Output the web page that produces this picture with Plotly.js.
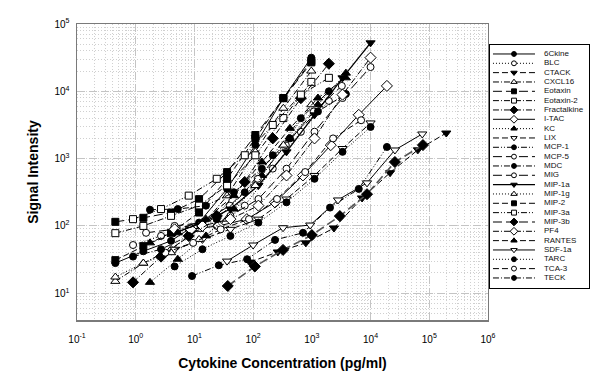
<!DOCTYPE html>
<html><head><meta charset="utf-8">
<script src="https://cdn.plot.ly/plotly-3.0.1.min.js"></script>
<style>html,body{margin:0;padding:0;background:#fff}#chart{width:600px;height:379px}</style>
</head><body><div id="chart"></div>
<script>
// ---- data (estimated) ----
const names = ['6Ckine','BLC','CTACK','CXCL16','Eotaxin','Eotaxin-2','Fractalkine','I-TAC','KC','LIX','MCP-1','MCP-5','MDC','MIG','MIP-1a','MIP-1g','MIP-2','MIP-3a','MIP-3b','PF4','RANTES','SDF-1a','TARC','TCA-3','TECK'];
const legendRows = [0,1,2,3,4,5,6,7,8,9,10,11,12,13,14,15,16,17,18,19,20,21,22,23,24];
const xTickVals = [0.1, 1, 10, 100, 1000, 10000, 100000, 1000000];
const xTickText = ['10<sup>-1</sup>','10<sup>0</sup>','10<sup>1</sup>','10<sup>2</sup>','10<sup>3</sup>','10<sup>4</sup>','10<sup>5</sup>','10<sup>6</sup>'];
const yTickVals = [10, 100, 1000, 10000, 100000];
const yTickText = ['10<sup>1</sup>','10<sup>2</sup>','10<sup>3</sup>','10<sup>4</sup>','10<sup>5</sup>'];

// concentration series (pg/ml)
const concA = [0.45, 1.35, 4.0, 12, 36, 109, 327, 980];
const concB = [0.9, 2.7, 8, 24, 72, 216, 650, 1950];
const concC = [1.75, 5.2, 15.7, 47, 141, 423, 1270, 3800];
const concD = [1.5, 4.4, 13.3, 40, 120, 360, 1080, 3240];
const concE = [3.2, 9.5, 28, 85, 255, 770, 2300, 6900];
const concF = [4.6, 13.7, 41, 123, 370, 1110, 3330, 10000];
const concG = [8.7, 26, 78, 235, 705, 2100, 6300, 19000];
const concMCP1 = [9.1, 26, 79, 236, 707, 2040, 6300, 19000];
const concSDF1a = [36, 100, 323, 937, 2790, 8700, 26000, 76000];
const concMIP3b = [37, 107, 323, 1000, 3000, 8700, 26000, 78000];
const concCTACK = [88, 263, 790, 2380, 7170, 21500, 64000, 195000];

// signal intensities
const sig6Ckine = [28, 42, 60, 112, 355, 1600, 7900, 31600];
const sigBLC = [52, 71, 89, 100, 200, 710, 2500, 7200];
const sigCTACK = [29, 41, 56, 93, 260, 617, 1350, 2400];
const sigCXCL16 = [15, 28, 45, 89, 280, 1260, 5600, 20000];
const sigEotaxin = [115, 132, 158, 250, 630, 2240, 7900, 26900];
const sigEotaxin2 = [78, 100, 141, 200, 400, 1120, 4000, 13800];
const sigFractalkine = [14.5, 35, 71, 141, 450, 2000, 7900, 25700];
const sigITAC = [89, 100, 126, 224, 562, 1585, 4467, 12023];
const sigKC = [14.5, 32, 71, 178, 562, 1995, 6310, 18621];
const sigLIX = [45, 63, 89, 126, 251, 562, 1413, 3388];
const sigMCP1 = [18, 26, 32, 62, 79, 187, 355, 1490];
const sigMCP5 = [79, 89, 112, 200, 501, 1585, 5012, 12023];
const sigMDC = [174, 178, 200, 316, 708, 1995, 5012, 9120];
const sigMIG = [100, 112, 141, 251, 708, 2512, 7943, 22909];
const sigMIP1a = [79, 112, 178, 398, 1259, 4467, 15849, 52481];
const sigMIP1g = [17.4, 28, 40, 63, 126, 398, 1585, 6310];
const sigMIP2 = [31, 50, 79, 158, 501, 1995, 7943, 28184];
const sigMIP3a = [126, 178, 282, 501, 1122, 3162, 8913, 15849];
const sigMIP3b = [12.8, 25, 44, 73, 140, 296, 890, 1590];
const sigPF4 = [89, 100, 126, 200, 562, 1995, 8913, 31623];
const sigRANTES = [56, 79, 126, 282, 891, 2818, 7943, 15849];
const sigSDF1a = [30, 52, 94, 103, 243, 436, 1343, 2323];
const sigTARC = [25, 45, 71, 112, 224, 501, 1259, 2951];
const sigTCA3 = [40, 56, 89, 126, 251, 631, 1995, 3715];
const sigTECK = [35, 45, 71, 126, 316, 1122, 3981, 10000];

const seriesX = [concA, concB, concCTACK, concA, concA, concA, concB, concG, concC, concF, concMCP1, concD, concC, concF, concF, concA, concA, concB, concMIP3b, concF, concC, concSDF1a, concF, concE, concB];
const seriesY = [sig6Ckine, sigBLC, sigCTACK, sigCXCL16, sigEotaxin, sigEotaxin2, sigFractalkine, sigITAC, sigKC, sigLIX, sigMCP1, sigMCP5, sigMDC, sigMIG, sigMIP1a, sigMIP1g, sigMIP2, sigMIP3a, sigMIP3b, sigPF4, sigRANTES, sigSDF1a, sigTARC, sigTCA3, sigTECK];

// ---- styles ----
const D = {solid:'solid', dot:'1px,2px', dash:'6px,3px', long:'9px,4px', dd:'6px,2px,1px,2px', ddd:'6px,2px,1px,2px,1px,2px'};
const styles = [
  {dash:D.solid, sym:'circle', fill:true},
  {dash:D.dot, sym:'circle', fill:false},
  {dash:D.dash, sym:'triangle-down', fill:true},
  {dash:D.dd, sym:'triangle-up', fill:false},
  {dash:D.long, sym:'square', fill:true},
  {dash:D.dd, sym:'square', fill:false},
  {dash:D.dd, sym:'diamond', fill:true},
  {dash:D.solid, sym:'diamond', fill:false},
  {dash:D.dot, sym:'triangle-up', fill:true},
  {dash:D.dash, sym:'triangle-down', fill:false},
  {dash:D.ddd, sym:'circle', fill:true},
  {dash:D.long, sym:'circle', fill:false},
  {dash:D.dd, sym:'circle', fill:true},
  {dash:D.long, sym:'circle', fill:false},
  {dash:D.solid, sym:'triangle-down', fill:true, w:1.3},
  {dash:D.dot, sym:'triangle-up', fill:false},
  {dash:D.dash, sym:'square', fill:true},
  {dash:D.ddd, sym:'square', fill:false},
  {dash:D.long, sym:'diamond', fill:true, w:1.6, col:'#555'},
  {dash:D.dd, sym:'diamond', fill:false},
  {dash:D.dash, sym:'triangle-up', fill:true},
  {dash:D.solid, sym:'triangle-down', fill:false},
  {dash:D.dot, sym:'circle', fill:true},
  {dash:D.dash, sym:'circle', fill:false},
  {dash:D.dd, sym:'circle', fill:true}
];
function msize(sym, scale){
  let s = 7;
  if (sym.indexOf('triangle')===0) s = 8;
  if (sym==='diamond') s = 8.5;
  return s*scale;
}

const traces = [];
for (let i=0;i<names.length;i++){
  const st = styles[i];
  traces.push({
    x: seriesX[i], y: seriesY[i], name: names[i], type:'scatter', mode:'lines+markers',
    xaxis:'x', yaxis:'y',
    line:{color: st.col || '#000', width: st.w || 1, dash: st.dash},
    marker:{symbol: st.sym, size: msize(st.sym,1), color: st.fill ? '#000' : '#fff', line:{color:'#000', width:1}},
    hoverinfo:'skip'
  });
}
// custom legend drawn in a small second axes
const legX = [3, 45];
const legMarkX = [24];
for (let i=0;i<names.length;i++){
  const st = styles[i];
  traces.push({x: legX, y:[legendRows[i],legendRows[i]], xaxis:'x2', yaxis:'y2', mode:'lines', type:'scatter',
    line:{color: st.col || '#000', width: st.w || 1, dash: st.dash}, hoverinfo:'skip'});
  traces.push({x: legMarkX, y:[legendRows[i]], xaxis:'x2', yaxis:'y2', mode:'markers', type:'scatter',
    marker:{symbol: st.sym, size: msize(st.sym,0.7), color: st.fill ? '#000' : '#fff', line:{color:'#000', width:1}}, hoverinfo:'skip'});
}
traces.push({x: legendRows.map(() => 54), y: legendRows, xaxis:'x2', yaxis:'y2', mode:'text', type:'scatter',
  text: names, textposition:'middle right', textfont:{size:8, color:'#111'}, hoverinfo:'skip'});

const layout = {
  width:600, height:379,
  margin:{l:77, r:11, t:24, b:59},
  paper_bgcolor:'#fff', plot_bgcolor:'#fff',
  showlegend:false,
  font:{family:'Liberation Sans, Arial, sans-serif', color:'#000', size:10},
  xaxis:{type:'log', domain:[0, 0.8027], range:[-1, 6], anchor:'y',
    tickmode:'array', tickvals:xTickVals, ticktext:xTickText, ticks:'', ticklabelstandoff:9,
    showgrid:true, gridcolor:'#c4c4c4', griddash:'8px,4px', gridwidth:1,
    minor:{showgrid:true, dtick:'D1', gridcolor:'#d0d0d0', griddash:'1px,2px', gridwidth:1},
    showline:true, mirror:true, linecolor:'#7a7a7a', linewidth:1.5, zeroline:false,
    tickfont:{size:10},
    title:{text:'<b>Cytokine Concentration (pg/ml)</b>', font:{size:14}, standoff:14}},
  yaxis:{type:'log', domain:[0,1], range:[0.602, 5], anchor:'x',
    tickmode:'array', tickvals:yTickVals, ticktext:yTickText, ticks:'', ticklabelstandoff:4,
    showgrid:true, gridcolor:'#c4c4c4', griddash:'8px,4px', gridwidth:1,
    minor:{showgrid:true, dtick:'D1', gridcolor:'#d0d0d0', griddash:'1px,2px', gridwidth:1},
    showline:true, mirror:true, linecolor:'#7a7a7a', linewidth:1.5, zeroline:false,
    tickfont:{size:10},
    title:{text:'<b>Signal Intensity</b>', font:{size:14}, standoff:12}},
  xaxis2:{domain:[0.8066, 1], range:[0, 99], anchor:'y2', showgrid:false, zeroline:false, showticklabels:false, ticks:'',
    showline:true, mirror:true, linecolor:'#000', linewidth:1, fixedrange:true},
  yaxis2:{domain:[0.108, 0.929], range:[25.08, -0.96], anchor:'x2', showgrid:false, zeroline:false, showticklabels:false, ticks:'',
    showline:true, mirror:true, linecolor:'#000', linewidth:1, fixedrange:true}
};
Plotly.newPlot('chart', traces, layout, {staticPlot:true, displayModeBar:false});
</script>
</body></html>
